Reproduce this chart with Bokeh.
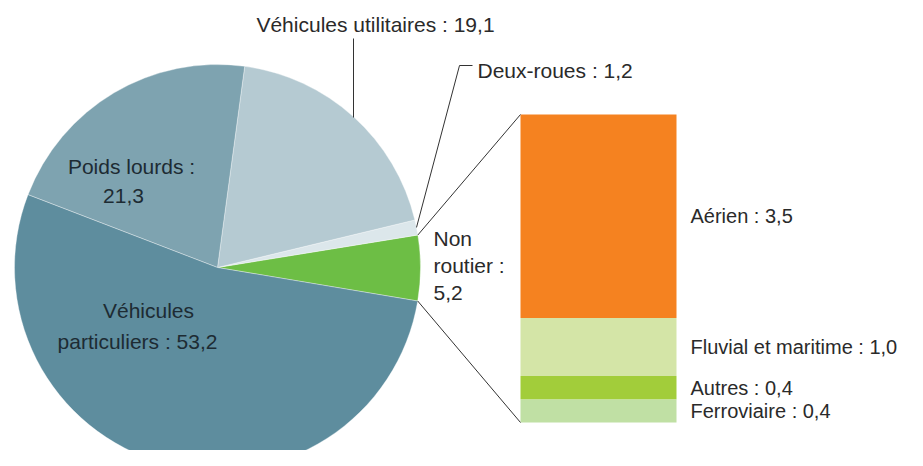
import numpy as np
from bokeh.plotting import figure
from bokeh.models import Range1d
from bokeh.embed import file_html
from bokeh.resources import INLINE
from bokeh.core.properties import value

# ---- data ----
pie_labels = ["Non routier", "Deux-roues", "Véhicules utilitaires", "Poids lourds", "Véhicules particuliers"]
pie_values = [5.2, 1.2, 19.1, 21.3, 53.2]
pie_colors = ["#6dbe45", "#dce7eb", "#b5cad2", "#7ea3b0", "#5e8d9e"]

bar_labels = ["Ferroviaire", "Autres", "Fluvial et maritime", "Aérien"]
bar_values = [0.4, 0.4, 1.0, 3.5]
bar_colors = ["#c0e0a4", "#a2cd3a", "#d4e5a7", "#f58220"]

FONT = value("Liberation Sans")
FS = "21px"
FS_BAR = "20px"
TXT = "#2a2a2a"

# figure shows reference pixel area x 0..907, y 0..450 ; data y = 466 - pixel y
def Y(py):
    return 466 - py

p = figure(width=907, height=450, x_range=Range1d(0, 907), y_range=Range1d(Y(450), Y(0)),
           output_backend="svg", toolbar_location=None, min_border=0)
p.axis.visible = False
p.grid.visible = False
p.outline_line_color = None

# ---- pie ----
cx, cy, R = 217, Y(267), 203
start_deg = -9.5
vals = np.array(pie_values)
cum = np.concatenate([[0], np.cumsum(vals)]) / vals.sum() * 2 * np.pi
starts = cum[:-1] + np.radians(start_deg)
ends = cum[1:] + np.radians(start_deg)
p.wedge(x=cx, y=cy, radius=R, radius_units="screen", start_angle=list(starts), end_angle=list(ends),
        fill_color=pie_colors, line_color="white", line_width=0.6, line_alpha=0.6)

def edge(a, r=R):
    return cx + r * np.cos(a), cy + r * np.sin(a)

# ---- stacked bar (own scale) ----
bar_bottom_px, bar_top_px = 422, 114
total = sum(bar_values)
ppu = (bar_bottom_px - bar_top_px) / total
p.extra_y_ranges = {"bar": Range1d((bar_bottom_px - 450) / ppu, (bar_bottom_px - 0) / ppu)}
bv = np.array(bar_values)
tops = np.cumsum(bv)
bottoms = tops - bv
bx0, bx1 = 520, 676
p.vbar(x=(bx0 + bx1) / 2, width=bx1 - bx0, bottom=list(bottoms), top=list(tops),
       fill_color=bar_colors, line_color=None, y_range_name="bar")
p.text(x=[690] * len(bar_labels), y=list(bottoms + bv / 2),
       text=[f"{l} : {v:.1f}".replace(".", ",") for l, v in zip(bar_labels, bar_values)],
       text_font=FONT, text_font_size=FS_BAR, text_color=TXT, text_baseline="middle",
       text_align="left", y_range_name="bar")

# connectors from non-road slice to bar
gx0, gy0 = edge(ends[0])
gx1, gy1 = edge(starts[0])
p.line([gx0, bx0], [gy0, Y(bar_top_px)], line_color="#333333", line_width=1)
p.line([gx1, bx0], [gy1, Y(bar_bottom_px)], line_color="#333333", line_width=1)

# ---- leader lines ----
# véhicules utilitaires
ux, uy = 353, Y(117)
p.line([ux, ux], [uy, Y(38)], line_color="#333333", line_width=1)
# deux-roues
dmid = (starts[1] + ends[1]) / 2
dx, dy = edge(dmid)
p.line([dx, 459, 472], [dy, Y(65), Y(65)], line_color="#333333", line_width=1)

# ---- texts ----
def lab(x, y, t, align="left", color=TXT):
    p.text(x=[x], y=[Y(y)], text=[t], text_font=FONT, text_font_size=FS, text_color=color,
           text_baseline="middle", text_align=align)

lab(375, 24, f"{pie_labels[2]} : {pie_values[2]:.1f}".replace(".", ","), "center")
lab(477, 70, f"{pie_labels[1]} : {pie_values[1]:.1f}".replace(".", ","))
lab(433, 238, "Non")
lab(433, 265, "routier :")
lab(433, 292, f"{pie_values[0]:.1f}".replace(".", ","))
lab(131, 166, f"{pie_labels[3]} :", "center", "#1d2b33")
lab(123, 195, f"{pie_values[3]:.1f}".replace(".", ","), "center", "#1d2b33")
lab(148, 310, "Véhicules", "center", "#1d2b33")
lab(137, 341, f"particuliers : {pie_values[4]:.1f}".replace(".", ","), "center", "#1d2b33")

open("out.html", "w").write(file_html(p, INLINE))
